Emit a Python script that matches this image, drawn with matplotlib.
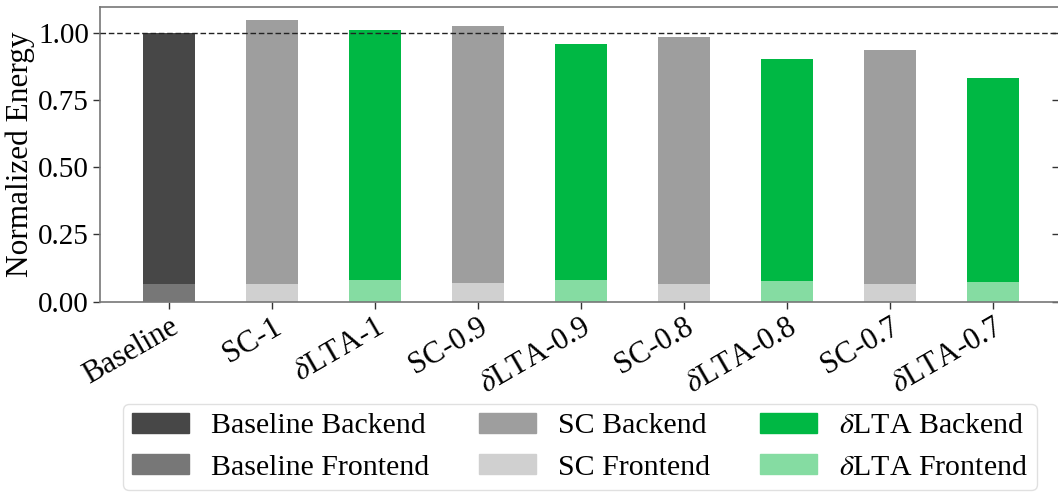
import matplotlib
matplotlib.use("Agg")
import matplotlib.pyplot as plt
import numpy as np
from matplotlib.patches import Patch

plt.rcParams["font.family"] = ["Liberation Serif", "DejaVu Serif"]
plt.rcParams["mathtext.fontset"] = "stix"
plt.rcParams["font.size"] = 21

# Configurations along the x axis
configs = ["Baseline", "SC-1", r"$\delta$LTA-1", "SC-0.9", r"$\delta$LTA-0.9",
           "SC-0.8", r"$\delta$LTA-0.8", "SC-0.7", r"$\delta$LTA-0.7"]
# Which family each configuration belongs to
families = ["Baseline", "SC", "LTA", "SC", "LTA", "SC", "LTA", "SC", "LTA"]
# Normalized energy split into frontend and total (frontend + backend)
frontend = [0.066, 0.066, 0.081, 0.070, 0.081, 0.066, 0.077, 0.066, 0.074]
total = [1.000, 1.047, 1.013, 1.028, 0.961, 0.987, 0.905, 0.935, 0.834]
backend = [t - f for t, f in zip(total, frontend)]

colors = {
    "Baseline": ("#474747", "#777777"),
    "SC": ("#9e9e9e", "#d0d0d0"),
    "LTA": ("#00b844", "#85dca2"),
}
legend_names = {"Baseline": "Baseline", "SC": "SC", "LTA": r"$\delta$LTA"}

fig = plt.figure(figsize=(10.58, 4.93), dpi=100)
ax = fig.add_axes([100 / 1058, 1 - 301.5 / 493, 958 / 1058, 294.5 / 493])

x = np.arange(len(configs))
back_c = [colors[f][0] for f in families]
front_c = [colors[f][1] for f in families]
ax.bar(x, frontend, width=0.5, color=front_c, zorder=2)
ax.bar(x, backend, width=0.5, bottom=frontend, color=back_c, zorder=2)
ax.axhline(1.0, color="#222222", linestyle="--", linewidth=1.0, dashes=(4, 2), zorder=3)

ax.set_xlim(-0.67, 8.63)
ax.set_ylim(0, 1.097)
ax.set_yticks([0, 0.25, 0.5, 0.75, 1.0])
ax.set_yticklabels(["0.00", "0.25", "0.50", "0.75", "1.00"], fontsize=21)
ax.set_xticks(x)
ax.set_xticklabels(configs, rotation=30, ha="right", rotation_mode="anchor",
                   fontsize=22)
ax.set_ylabel("Normalized Energy", labelpad=2, fontsize=22.5)

for s in ["left", "top", "bottom"]:
    ax.spines[s].set_color("#777777")
    ax.spines[s].set_linewidth(1.2)
ax.spines["right"].set_visible(False)
ax.tick_params(axis="both", which="both", direction="out", length=5, width=1.0,
               color="#333333", pad=3)
# short inward marks along the right edge
ax.yaxis.set_tick_params(which="major", right=True)
for t in ax.yaxis.get_major_ticks():
    t.tick2line.set_marker(matplotlib.markers.TICKLEFT)
    t.tick2line.set_markersize(4)

handles = []
labels = []
for fam in ["Baseline", "SC", "LTA"]:
    handles.append(Patch(color=colors[fam][0]))
    labels.append(f"{legend_names[fam]} Backend")
    handles.append(Patch(color=colors[fam][1]))
    labels.append(f"{legend_names[fam]} Frontend")

leg = fig.legend(handles, labels, ncol=3, mode="expand",
                 bbox_to_anchor=(123 / 1058, 1 - 404 / 493, 914 / 1058, 0.0),
                 loc="upper left", borderaxespad=0.0, frameon=True, fancybox=True,
                 handlelength=1.9, handleheight=0.65, handletextpad=0.75,
                 borderpad=0.3, labelspacing=0.5, fontsize=21.5)
leg.get_frame().set_edgecolor("#d9d9d9")
leg.get_frame().set_linewidth(1.0)

fig.savefig("out.png", dpi=100)
